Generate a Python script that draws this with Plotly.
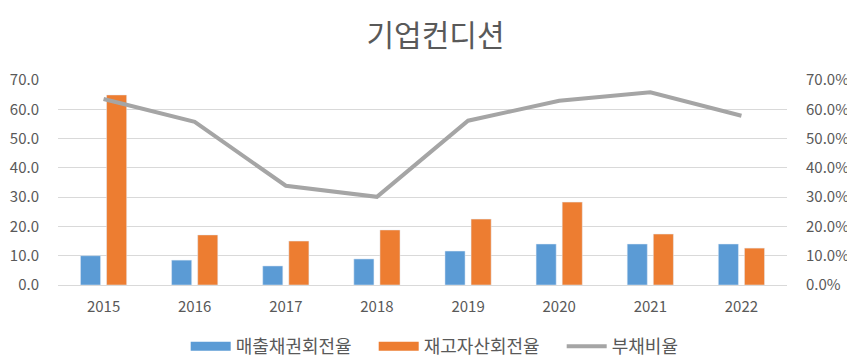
import plotly.graph_objects as go

years = ["2015", "2016", "2017", "2018", "2019", "2020", "2021", "2022"]
receivable_turnover = [10.0, 8.5, 6.5, 8.9, 11.6, 14.0, 14.0, 14.0]
inventory_turnover = [64.9, 17.1, 15.0, 18.8, 22.5, 28.3, 17.4, 12.6]
debt_ratio = [63.5, 55.7, 33.9, 30.1, 56.1, 62.9, 65.8, 57.8]
axis_ticks = [0, 10, 20, 30, 40, 50, 60, 70]
left_labels = ["0.0", "10.0", "20.0", "30.0", "40.0", "50.0", "60.0", "70.0"]
right_labels = ["0.0%", "10.0%", "20.0%", "30.0%", "40.0%", "50.0%", "60.0%", "70.0%"]

FONT = "Noto Sans CJK KR"
TXT = "#595959"
BLUE, ORANGE, GREY = "#5B9BD5", "#ED7D31", "#A5A5A5"

fig = go.Figure()
fig.add_trace(go.Bar(x=years, y=receivable_turnover, name="매출채권회전율",
                     marker_color=BLUE, showlegend=False, legendgroup="a"))
fig.add_trace(go.Bar(x=years, y=inventory_turnover, name="재고자산회전율",
                     marker_color=ORANGE, showlegend=False, legendgroup="b"))
# legend swatches (wide rectangles as in the original legend)
fig.add_trace(go.Scatter(x=[years[0]], y=[None], name="매출채권회전율", mode="lines",
                         line=dict(color=BLUE, width=9), legendgroup="a",
                         hoverinfo="skip"))
fig.add_trace(go.Scatter(x=[years[0]], y=[None], name="재고자산회전율", mode="lines",
                         line=dict(color=ORANGE, width=9), legendgroup="b",
                         hoverinfo="skip"))
fig.add_trace(go.Scatter(x=years, y=debt_ratio, name="부채비율", yaxis="y2",
                         mode="lines", line=dict(color=GREY, width=4)))

fig.update_layout(
    width=855, height=364,
    margin=dict(l=50, r=76, t=72, b=87, autoexpand=False),
    paper_bgcolor="white", plot_bgcolor="white",
    font=dict(family=FONT, color=TXT, size=15),
    title=dict(text="기업컨디션", x=0.5, xanchor="center", y=0.925, yanchor="middle",
               font=dict(family=FONT, size=30, color=TXT)),
    barmode="group", bargap=0.427, bargroupgap=0.23,
    showlegend=True,
    legend=dict(orientation="h", x=0.562, xanchor="center", y=-0.30, yanchor="middle",
                font=dict(family=FONT, size=18, color=TXT), traceorder="normal",
                itemwidth=40, entrywidth=133, entrywidthmode="pixels"),
    xaxis=dict(type="category", showgrid=False, showline=True, linecolor="#D9D9D9",
               linewidth=1, ticks="", ticklabelstandoff=8,
               tickfont=dict(size=15, color=TXT)),
    yaxis=dict(range=[0, 70], tickvals=axis_ticks, ticktext=left_labels,
               showgrid=True, gridcolor="#D9D9D9", gridwidth=1, zeroline=False,
               ticks="", ticklabelstandoff=18, tickfont=dict(size=15, color=TXT)),
    yaxis2=dict(range=[0, 70], tickvals=axis_ticks, ticktext=right_labels,
                overlaying="y", side="right", showgrid=False, zeroline=False,
                ticks="", ticklabelstandoff=18, tickfont=dict(size=15, color=TXT)),
)

fig.write_html("out.html")
